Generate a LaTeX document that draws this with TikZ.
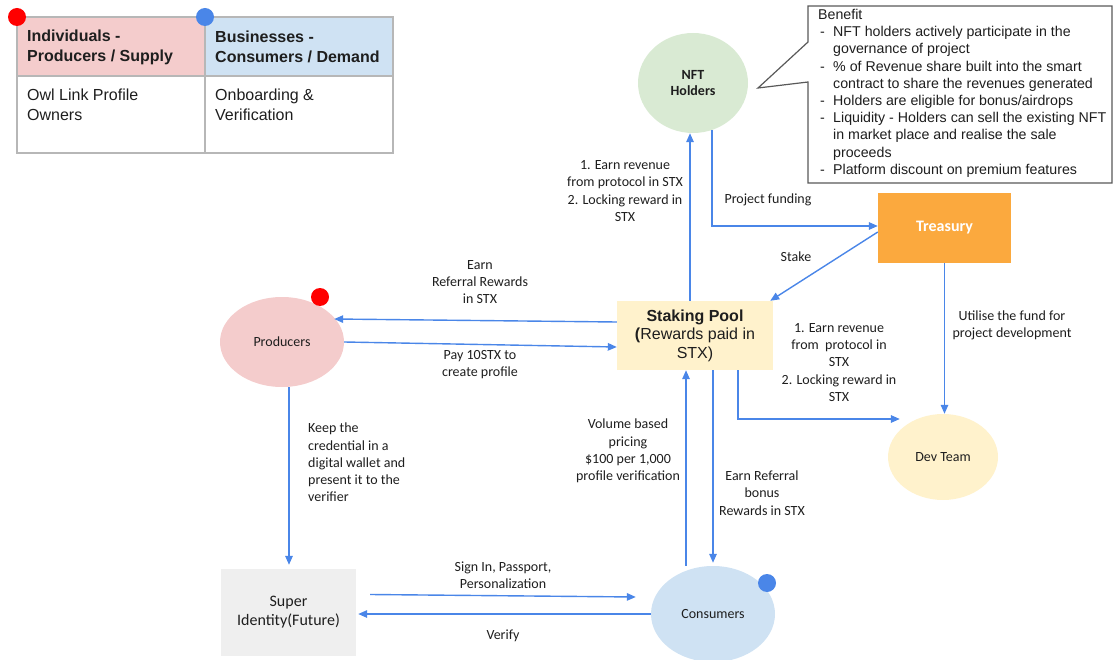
\documentclass[tikz,border=0pt]{standalone}
\usepackage{fontspec}
\setmainfont{Carlito}
\newfontfamily\arial{Liberation Sans}
\usetikzlibrary{arrows.meta,calc,shapes.geometric}
\definecolor{flow}{HTML}{4A86E8}
\definecolor{pinkF}{HTML}{F4CCCC}
\definecolor{blueF}{HTML}{CFE2F3}
\definecolor{greenF}{HTML}{D9EAD3}
\definecolor{orangeF}{HTML}{FBA93E}
\definecolor{yellowF}{HTML}{FFF2CC}
\definecolor{grayF}{HTML}{EFEFEF}
\definecolor{tableline}{HTML}{B7B7B7}
\definecolor{callline}{HTML}{595959}
\definecolor{ink}{HTML}{1E1E1E}
\newcommand\bitem{\makebox[15pt][l]{\hspace{2pt}-}}
\newcommand\bcont{\hspace*{15pt}}
\begin{document}
\begin{tikzpicture}[x=1pt,y=-1pt,
  every node/.style={text=ink},
  arr/.style={draw=flow, line width=1.4pt, -{Triangle[length=9pt,width=7.5pt]}},
  lbl/.style={align=center, font=\fontsize{14}{17.2}\selectfont, inner sep=0pt},
  ell/.style={ellipse, inner sep=0pt, font=\fontsize{14}{16}\selectfont, align=center},
  boxnode/.style={rectangle, inner sep=0pt, align=center},
  dot/.style={circle, inner sep=0pt, minimum size=18pt}
]
\useasboundingbox (0,0) rectangle (1113,660);

% ---- legend table ----
\fill[pinkF] (17,17) rectangle (205,76);
\fill[blueF] (205,17) rectangle (393,76);
\draw[tableline, line width=1.2pt] (17,17) rectangle (393,153)
  (17,76) -- (393,76) (205,17) -- (205,153);
\node[anchor=west, align=left, inner sep=0pt, font=\arial\bfseries\fontsize{16}{20}\selectfont] (th1) at (27,47) {Individuals -\\Producers / Supply};
\node[anchor=west, align=left, inner sep=0pt, font=\arial\bfseries\fontsize{16}{20}\selectfont] (th2) at (215,47) {Businesses -\\Consumers / Demand};
\node[anchor=west, align=left, inner sep=0pt, font=\arial\fontsize{16}{20}\selectfont] (tb1) at (27,105) {Owl Link Profile\\Owners};
\node[anchor=west, align=left, inner sep=0pt, font=\arial\fontsize{16}{20}\selectfont] (tb2) at (215,105) {Onboarding \&\\Verification};
\node[dot, fill=red] (reddot1) at (17,17) {};
\node[dot, fill=flow] (bluedot1) at (205,17) {};

% ---- benefit callout ----
\draw[callline, fill=white, line width=1.2pt] (808,6) -- (1112,6) -- (1112,183) -- (808,183)
  -- (808,82) -- (758,88) -- (808,42) -- cycle;
\node[anchor=north west, align=left, inner sep=0pt, font=\arial\fontsize{14.2}{17.2}\selectfont] (benefit) at (818,9)
{Benefit\\
\bitem NFT holders actively participate in the\\
\bcont governance of project\\
\bitem \% of Revenue share built into the smart\\
\bcont contract to share the revenues generated\\
\bitem Holders are eligible for bonus/airdrops\\
\bitem Liquidity - Holders can sell the existing NFT\\
\bcont in market place and realise the sale\\
\bcont proceeds\\
\bitem Platform discount on premium features};

% ---- main nodes ----
\node[ell, fill=greenF, minimum width=110pt, minimum height=100pt, font=\bfseries\fontsize{14}{16.5}\selectfont] (nft) at (693,83) {NFT\\Holders};
\node[boxnode, fill=orangeF, minimum width=133pt, minimum height=70pt, font=\bfseries\fontsize{16}{19}\selectfont, text=white] (tr) at (944.5,228) {Treasury};
\node[boxnode, fill=yellowF, minimum width=156pt, minimum height=69pt, font=\arial\fontsize{16}{18.5}\selectfont] (sp) at (695,335.5) {\textbf{Staking Pool}\\\textbf{(}Rewards paid in\\STX)};
\node[ell, fill=pinkF, minimum width=124pt, minimum height=90pt] (prod) at (282,342) {Producers};
\node[dot, fill=red] (reddot2) at (320,297) {};
\node[ell, fill=yellowF, minimum width=110pt, minimum height=86pt] (dev) at (943,457) {Dev Team};
\node[boxnode, fill=grayF, minimum width=135pt, minimum height=87pt, font=\fontsize{16}{19}\selectfont] (super) at (288.5,612.5) {Super\\Identity(Future)};
\node[ell, fill=blueF, minimum width=124pt, minimum height=96pt] (cons) at (713,614) {Consumers};
\node[dot, fill=flow] (bluedot2) at (767,583) {};

% ---- connectors ----
\draw[arr] ([xshift=-5pt]sp.north) -- ([xshift=-5pt]sp.north |- nft.south);
\draw[arr] (nft.-68) |- ([yshift=2pt]tr.west);
\draw[arr] ([yshift=-4pt]tr.west) -- ([xshift=-3pt]sp.north east);
\draw[arr] (tr.south) -- (tr.south |- dev.north);
\draw[arr] ([xshift=43pt]sp.south) |- ([xshift=12pt,yshift=38pt]dev.west);
\draw[arr] ([yshift=13.5pt]sp.west) -- ([xshift=-10pt,yshift=23pt]prod.east);
\draw[arr] (prod.east) -- ([yshift=-11.5pt]sp.west);
\draw[arr, shorten >=4pt] ([xshift=7pt]prod.south) -- ([xshift=7pt]prod.south |- super.north);
\draw[arr] ([xshift=-9pt]sp.south |- cons.north) -- ([xshift=-9pt]sp.south);
\draw[arr, shorten >=3pt] ([xshift=18pt]sp.south) -- ([xshift=18pt]sp.south |- cons.north);
\draw[arr] ([xshift=14pt,yshift=18pt]super.east) -- ([xshift=-15pt,yshift=17pt]cons.west);
\draw[arr, shorten >=2pt] (cons.west) -- (cons.west -| super.east);

% ---- labels ----
\node[lbl] (l1) at (625,191) {1. Earn revenue\\from protocol in STX\\2. Locking reward in\\STX};
\node[lbl] (l2) at (768,200) {Project funding};
\node[lbl] (l3) at (796,257) {Stake};
\node[lbl] (l4) at (1012,325) {Utilise the fund for\\project development};
\node[lbl] (l5) at (839,362.5) {1. Earn revenue\\from\ \ protocol in\\STX\\2. Locking reward in\\STX};
\node[lbl] (l6) at (480,282) {Earn\\Referral Rewards\\in STX};
\node[lbl] (l7) at (480,364.5) {Pay 10STX to\\create profile};
\node[lbl, align=left, anchor=west] (l8) at (308,462.5) {Keep the\\credential in a\\digital wallet and\\present it to the\\verifier};
\node[lbl] (l9) at (628,451) {Volume based\\pricing\\\$100 per 1,000\\profile verification};
\node[lbl] (l10) at (762,493) {Earn Referral\\bonus\\Rewards in STX};
\node[lbl] (l11) at (503,575.5) {Sign In, Passport,\\Personalization};
\node[lbl] (l12) at (503,636) {Verify};
\end{tikzpicture}
\end{document}
